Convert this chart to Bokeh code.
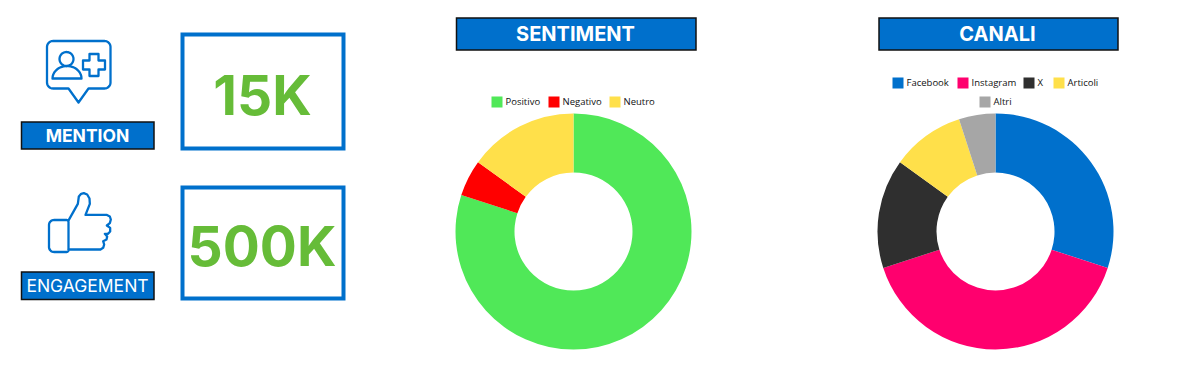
import numpy as np
from bokeh.plotting import figure
from bokeh.models import Range1d
from bokeh.embed import file_html
from bokeh.resources import INLINE
from bokeh.core.properties import value

BLUE = "#0070CC"
GREEN_TEXT = "#66BC38"

stat_labels = ["MENTION", "ENGAGEMENT"]
stat_values = ["15K", "500K"]

sent_titles = "SENTIMENT"
sent_cats = ["Positivo", "Negativo", "Neutro"]
sent_vals = [80, 5, 15]
sent_cols = ["#50E858", "#FF0000", "#FFE04A"]

chan_titles = "CANALI"
chan_cats = ["Facebook", "Instagram", "X", "Articoli", "Altri"]
chan_vals = [30, 40, 15, 10, 5]
chan_cols = [BLUE, "#FF006E", "#2F2F2F", "#FFE04A", "#A6A6A6"]

W, H = 1172, 359
p = figure(width=W, height=H, output_backend="svg", toolbar_location=None,
           x_range=Range1d(0, W), y_range=Range1d(H, 0),
           x_axis_type=None, y_axis_type=None, min_border=0,
           outline_line_color=None, background_fill_color="white")
p.grid.visible = False


def box(x0, x1, y0, y1, fill, line, lw):
    p.quad(left=[x0], right=[x1], top=[y0], bottom=[y1], fill_color=fill,
           line_color=line, line_width=lw, line_join="miter")


def txt(x, y, s, size, color, font="Inter", style="bold", align="center"):
    p.text([x], [y], text=[s], text_font=value(font), text_font_size=f"{size}px",
           text_font_style=style, text_color=color, text_align=align,
           text_baseline="middle")


# --- KPI column
for (y0, y1), s in zip([(34, 148), (187, 298)], stat_values):
    box(182, 343, y0, y1, "white", BLUE, 4)
txt(262, 94, stat_values[0], 55, GREEN_TEXT, "Inter", "bold")
txt(261.5, 245, stat_values[1], 55, GREEN_TEXT, "Inter", "bold")
for (y0, y1), s in zip([(121.5, 148.5), (271.5, 299)], stat_labels):
    box(21, 153.5, y0, y1, BLUE, "#111111", 1.5)
txt(87, 135, stat_labels[0], 17.5, "white", "Inter", "bold")
txt(87, 285, stat_labels[1], 17.5, "white", "Inter", "normal")


def arc(cx, cy, rx, ry, a0, a1, n=12):
    a = np.radians(np.linspace(a0, a1, n))
    return cx + rx * np.cos(a), cy + ry * np.sin(a)


def path(xs, ys, lw=2.3):
    p.line(list(xs), list(ys), line_color=BLUE, line_width=lw, line_join="round", line_cap="round")


# bubble icon
L, R, T, B, r = 46.5, 110, 40.5, 88, 6
seg = [arc(R - r, T + r, r, r, -90, 0), arc(R - r, B - r, r, r, 0, 90),
       (np.array([88, 78, 68]), np.array([B, 102, B])),
       arc(L + r, B - r, r, r, 90, 180), arc(L + r, T + r, r, r, 180, 270)]
bx = np.concatenate([s[0] for s in seg] + [[R - r]])
by = np.concatenate([s[1] for s in seg] + [[T]])
path(bx, by)
hx, hy = arc(66, 58.5, 7, 7, 0, 360, 30)
path(hx, hy)
sx, sy = arc(66.5, 78, 14.5, 12.5, 180, 360, 20)
path(np.append(sx, sx[0]), np.append(sy, sy[0]))
a, t, cx, cy = 11, 4.5, 93.5, 64.5
px = [cx - t, cx + t, cx + t, cx + a, cx + a, cx + t, cx + t, cx - t, cx - t, cx - a, cx - a, cx - t, cx - t]
py = [cy - a, cy - a, cy - t, cy - t, cy + t, cy + t, cy + a, cy + a, cy + t, cy + t, cy - t, cy - t, cy - a]
path(px, py)

# thumb icon
L, R, T, B, r = 48.5, 68, 219.5, 251.5, 5
seg = [arc(R - 2, T + 2, 2, 2, -90, 0), arc(R - 2, B - 2, 2, 2, 0, 90),
       arc(L + r, B - r, r, r, 90, 180), arc(L + r, T + r, r, r, 180, 270)]
path(np.concatenate([s[0] for s in seg] + [[R - 2]]), np.concatenate([s[1] for s in seg] + [[T]]))
hand = [(205, 148), (232, 100), (235, 78), (242, 70), (250, 68), (260, 72), (267, 84), (268, 100), (255, 133),
        (318, 133), (328, 138), (331, 147), (328, 158), (319, 165), (329, 172), (329, 183), (322, 190), (313, 190),
        (320, 198), (318, 207), (308, 212), (311, 222), (308, 232), (300, 237), (205, 237)]
path([q[0] / 3 for q in hand], [170 + q[1] / 3 for q in hand])


# --- donuts
def donut(cx, cy, vals, cols):
    v = np.array(vals, dtype=float)
    edges = np.pi / 2 - np.concatenate([[0], np.cumsum(v)]) / v.sum() * 2 * np.pi
    p.annular_wedge([cx] * len(v), [cy] * len(v), inner_radius=59, outer_radius=118,
                    inner_radius_units="screen", outer_radius_units="screen",
                    start_angle=list(edges[:-1]), end_angle=list(edges[1:]),
                    direction="clock", fill_color=cols, line_color=None)


donut(573, 231, sent_vals, sent_cols)
donut(995, 231, chan_vals, chan_cols)

box(456, 695.5, 17.5, 49.5, BLUE, "#111111", 1.5)
txt(575, 33.5, sent_titles, 20, "white", "Inter", "bold")
box(878.5, 1117.5, 17.5, 49.5, BLUE, "#111111", 1.5)
txt(997, 33.5, chan_titles, 20, "white", "Inter", "bold")


def legend(xs, ys, cats, cols):
    for x, y, c, col in zip(xs, ys, cats, cols):
        p.quad(left=[x], right=[x + 11], top=[y], bottom=[y + 11], fill_color=col, line_color=None)
        txt(x + 14, y + 5, c, 9.5, "#111111", "Open Sans", "normal", "left")


legend([491, 548, 609], [96, 96, 96], sent_cats, sent_cols)
legend([892, 957, 1023, 1053, 979], [77, 77, 77, 77, 96], chan_cats, chan_cols)

open("out.html", "w").write(file_html(p, INLINE))
